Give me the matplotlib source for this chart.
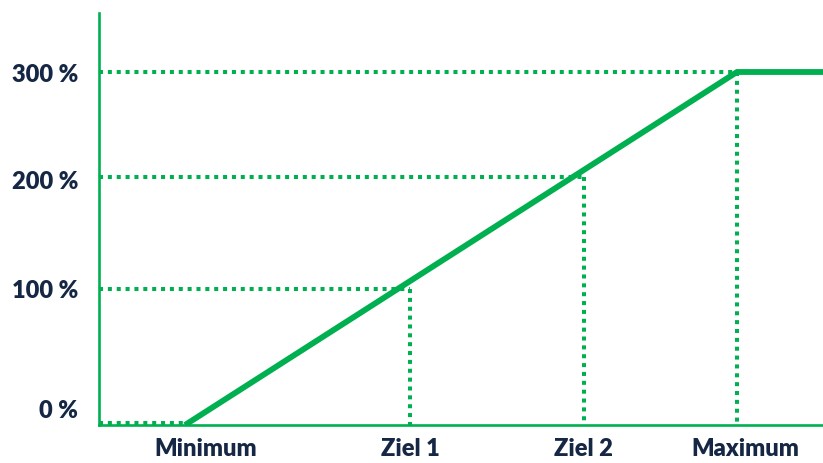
import matplotlib.pyplot as plt

# Schematic payout curve (chart units: x ~ position along axis, y ~ percent level)
goal_names = ['Minimum', 'Ziel 1', 'Ziel 2', 'Maximum']
goal_x = [86, 311, 485, 638]            # where the guide lines sit
goal_level = [0, 116, 211, 300]          # drawn height of each level
label_x = [107, 311, 484, 646]           # x tick label centres
level_labels = ['0 %', '100 %', '200 %', '300 %']
level_label_y = [14, 116, 208, 299]

curve_x = [86, 638, 724]
curve_y = [0, 300, 300]

green = '#00B050'
navy = '#152744'

plt.rcParams['font.family'] = ['Lato', 'DejaVu Sans']

fig = plt.figure(figsize=(8.23, 4.63), dpi=100)
ax = fig.add_axes([99 / 823, 1 - 425 / 463, 1 - 99 / 823, (425 - 13) / 463])
ax.set_xlim(0, 724)
ax.set_ylim(0, 412 / (353 / 300))

dot = dict(color=green, lw=2.9, ls=(0, (1, 1.2)), zorder=2)

# guide lines
for gx, gy in zip(goal_x, goal_level):
    if gy == 0:
        ax.plot([0, gx], [2, 2], **dot)
        continue
    ax.plot([0, gx], [gy, gy], **dot)
    ax.plot([gx, gx], [gy, 0], **dot)

ax.plot(curve_x, curve_y, color=green, lw=4.2, solid_capstyle='butt',
        solid_joinstyle='miter', zorder=3)

for s in ['top', 'right']:
    ax.spines[s].set_visible(False)
for s in ['left', 'bottom']:
    ax.spines[s].set_color(green)
    ax.spines[s].set_linewidth(1.9)

ax.set_xticks(label_x)
ax.set_xticklabels(goal_names)
ax.set_yticks(level_label_y)
ax.set_yticklabels(level_labels)
ax.tick_params(axis='both', length=0, labelsize=17, labelcolor=navy)
ax.tick_params(axis='x', pad=9)
ax.tick_params(axis='y', pad=15)
for t in ax.get_xticklabels() + ax.get_yticklabels():
    t.set_fontweight('heavy')

fig.savefig('out.png', dpi=100, facecolor='white')
